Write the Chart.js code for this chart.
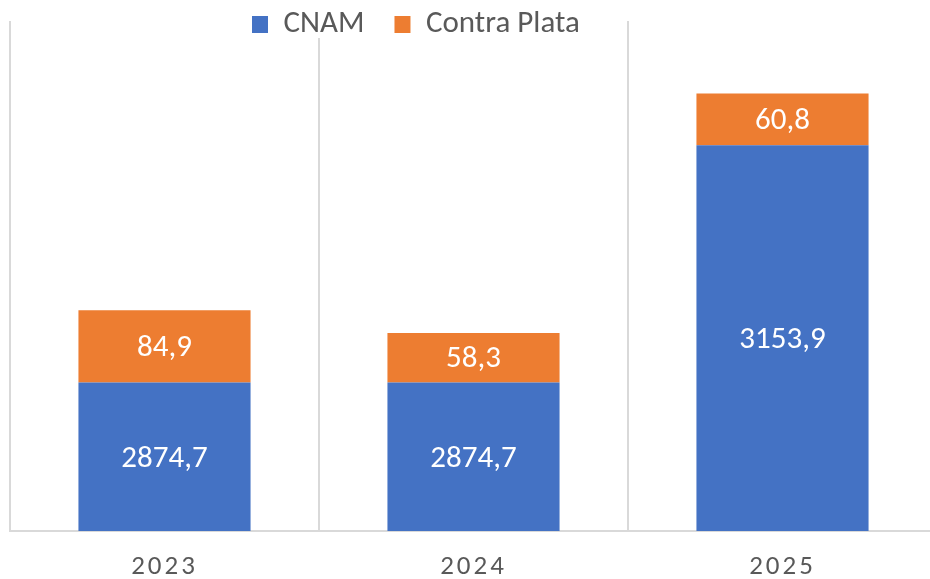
<!DOCTYPE html>
<html>
<head>
<meta charset="utf-8">
<script src="https://cdn.jsdelivr.net/npm/chart.js@4.4.1/dist/chart.umd.min.js"></script>
<style>
  html, body { margin: 0; padding: 0; background: #ffffff; overflow: hidden; }
  #wrap { width: 940px; height: 579px; position: relative; }
</style>
</head>
<body>
<div id="wrap"><canvas id="c"></canvas></div>
<script>
// ---- data ----
const categories = ['2023', '2024', '2025'];
const cnamValues = [2874.7, 2874.7, 3153.9];
const contraPlataValues = [84.9, 58.3, 60.8];
const seriesNames = ['CNAM', 'Contra Plata'];
const yMin = 2700;
const yMax = 3300;

// ---- style ----
const FONT = 'Carlito, Lato, sans-serif';
const TEXT_GREY = '#595959';
const GRID = '#d9d9d9';
const BLUE = '#4472C4';
const ORANGE = '#ED7D31';

function fmt(v) { return v.toFixed(1).replace('.', ','); }

// value labels centred in each visible bar segment
const valueLabels = {
  id: 'valueLabels',
  afterDatasetsDraw(chart) {
    const ctx = chart.ctx;
    const area = chart.chartArea;
    ctx.save();
    ctx.fillStyle = '#ffffff';
    ctx.font = '31px ' + FONT;
    ctx.textAlign = 'center';
    ctx.textBaseline = 'middle';
    chart.data.datasets.forEach((ds, di) => {
      const meta = chart.getDatasetMeta(di);
      meta.data.forEach((bar, i) => {
        const p = bar.getProps(['x', 'y', 'base'], true);
        const top = Math.max(Math.min(p.y, p.base), area.top);
        const bottom = Math.min(Math.max(p.y, p.base), area.bottom);
        ctx.fillText(fmt(ds.data[i]), p.x, (top + bottom) / 2 + 2);
      });
    });
    ctx.restore();
  }
};

// legend placed over the plot area with a white backing, like the original
const legendPlacement = {
  id: 'legendPlacement',
  beforeDraw(chart) {
    const lg = chart.legend;
    if (!lg) return;
    lg.left = 222;
    lg.right = 930;
    lg.top = -21;
    lg.bottom = 60;
  },
  beforeDatasetsDraw(chart) {
    const lg = chart.legend;
    if (!lg) return;
    const ctx = chart.ctx;
    ctx.save();
    ctx.fillStyle = '#ffffff';
    ctx.fillRect(244, 0, 342, 38);
    ctx.restore();
    lg.draw();
  }
};

// letter-spaced category labels
const spacedTicks = {
  id: 'spacedTicks',
  beforeDraw(chart) {
    const s = chart.scales.x;
    if (s && !s.__spaced) {
      const orig = s.drawLabels.bind(s);
      s.drawLabels = function (ca) {
        const c = this.ctx;
        const prev = c.letterSpacing;
        c.letterSpacing = '3px';
        orig(ca);
        c.letterSpacing = prev || '0px';
      };
      s.__spaced = true;
    }
  }
};

new Chart(document.getElementById('c'), {
  type: 'bar',
  data: {
    labels: categories,
    datasets: [
      { label: seriesNames[0], data: cnamValues, backgroundColor: BLUE, borderWidth: 0 },
      { label: seriesNames[1], data: contraPlataValues, backgroundColor: ORANGE, borderWidth: 0 }
    ]
  },
  options: {
    responsive: true,
    maintainAspectRatio: false,
    animation: false,
    devicePixelRatio: 1,
    layout: { padding: { left: 10, right: 3, top: 0, bottom: -25 } },
    datasets: { bar: { categoryPercentage: 1, barPercentage: 0.557 } },
    plugins: {
      tooltip: { enabled: false },
      legend: {
        display: true,
        position: 'top',
        align: 'start',
        maxHeight: 21,
        labels: {
          boxWidth: 16,
          boxHeight: 17,
          padding: 30,
          color: TEXT_GREY,
          font: { family: FONT, size: 31 }
        }
      }
    },
    scales: {
      x: {
        stacked: true,
        offset: true,
        grid: { display: true, offset: true, color: GRID, lineWidth: 2, drawTicks: false },
        border: { display: true, color: GRID, width: 2 },
        ticks: { color: TEXT_GREY, padding: 23, font: { family: FONT, size: 27, lineHeight: 1 } }
      },
      y: {
        stacked: true,
        display: false,
        min: yMin,
        max: yMax
      }
    }
  },
  plugins: [valueLabels, legendPlacement, spacedTicks]
});
</script>
</body>
</html>
